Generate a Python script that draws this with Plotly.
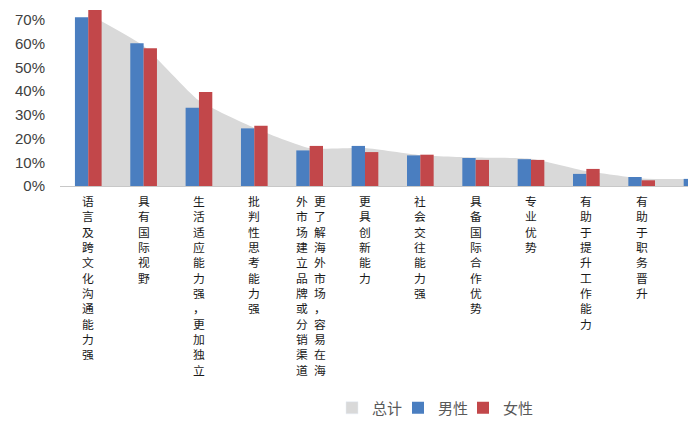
import plotly.graph_objects as go

categories = [
    "语言及跨文化沟通能力强",
    "具有国际视野",
    "生活适应能力强，更加独立",
    "批判性思考能力强",
    "更了解海外市场，容易在海外市场建立品牌或分销渠道",
    "更具创新能力",
    "社会交往能力强",
    "具备国际合作优势",
    "专业优势",
    "有助于提升工作能力",
    "有助于职务晋升",
    "其他",
]
# label columns as shown (vertical, stacked characters)
label_columns = [
    ["语言及跨文化沟通能力强"],
    ["具有国际视野"],
    ["生活适应能力强，更加独立"],
    ["批判性思考能力强"],
    ["外市场建立品牌或分销渠道", "更了解海外市场，容易在海"],
    ["更具创新能力"],
    ["社会交往能力强"],
    ["具备国际合作优势"],
    ["专业优势"],
    ["有助于提升工作能力"],
    ["有助于职务晋升"],
    [],
]
total = [0.725, 0.59, 0.36, 0.245, 0.16, 0.16, 0.13, 0.12, 0.115, 0.063, 0.032, 0.030]
male = [0.711, 0.602, 0.330, 0.243, 0.150, 0.169, 0.129, 0.118, 0.113, 0.051, 0.038, 0.030]
female = [0.742, 0.581, 0.396, 0.254, 0.169, 0.143, 0.132, 0.110, 0.110, 0.072, 0.024, 0.025]
y_ticks = [0, 0.1, 0.2, 0.3, 0.4, 0.5, 0.6, 0.7]

GRAY, BLUE, RED = "#d9d9d9", "#4a7ec0", "#c2474a"
X_RANGE = [-0.511, 10.837]
Y_RANGE = [0, 0.78]
W, H = 698, 421

fig = go.Figure()
# area (base subplot, drawn underneath)
fig.add_trace(go.Scatter(
    x=categories, y=total, name="总计", mode="none", fill="tozeroy",
    fillcolor=GRAY, line=dict(shape="spline", smoothing=0.5),
    showlegend=False, xaxis="x", yaxis="y",
))
# legend swatch for the area series
fig.add_trace(go.Bar(x=[categories[0]], y=[None], name="总计", legend="legend",
                     marker=dict(color=GRAY), xaxis="x", yaxis="y"))
# bars on overlaid axes, drawn on top of the area
fig.add_trace(go.Bar(x=categories, y=male, name="男性", legend="legend2",
                     marker=dict(color=BLUE, line=dict(width=0)), xaxis="x2", yaxis="y2"))
fig.add_trace(go.Bar(x=categories, y=female, name="女性", legend="legend3",
                     marker=dict(color=RED, line=dict(width=0)), xaxis="x2", yaxis="y2"))

annotations = []
offsets = {1: [0], 2: [-8, 10]}
for cat, cols in zip(categories, label_columns):
    if not cols:
        continue
    for dx, col in zip(offsets[len(cols)], cols):
        annotations.append(dict(
            x=cat, xref="x", y=0, yref="paper", yanchor="top", xanchor="center",
            yshift=-4, xshift=dx, showarrow=False, align="center",
            text="<br>".join(list(col)),
            font=dict(family="Noto Sans CJK SC", size=11.8, color="#1a1a1a"),
        ))

def legend_at(px):
    return dict(orientation="h", x=px / W, xanchor="left", xref="container",
                y=1 - 408 / H, yref="container", yanchor="middle",
                bgcolor="rgba(0,0,0,0)",
                font=dict(family="Noto Sans CJK SC", size=15, color="#595959"))

fig.update_layout(
    width=W, height=H,
    margin=dict(l=60, r=10, t=1, b=235, autoexpand=False),
    paper_bgcolor="white", plot_bgcolor="white",
    barmode="group", bargap=0.518, bargroupgap=0,
    showlegend=True,
    legend=legend_at(332), legend2=legend_at(398), legend3=legend_at(463),
    annotations=annotations,
    xaxis=dict(type="category", categoryarray=categories, range=X_RANGE, showticklabels=False,
               showline=True, linecolor="#c8c8c8", linewidth=1, showgrid=False,
               zeroline=False, ticks=""),
    yaxis=dict(range=Y_RANGE, tickvals=y_ticks, tickformat=".0%",
               showgrid=False, zeroline=False, showline=False, ticks="",
               ticklabelstandoff=14,
               tickfont=dict(family="Liberation Sans", size=15, color="#404040")),
    xaxis2=dict(type="category", categoryarray=categories, range=X_RANGE, overlaying="x",
                showticklabels=False, showline=False, showgrid=False, zeroline=False, ticks=""),
    yaxis2=dict(range=Y_RANGE, overlaying="y", showticklabels=False, showline=False,
                showgrid=False, zeroline=False, ticks=""),
)
fig.write_html("out.html", config={"displayModeBar": False},
               post_script="document.body.style.margin='0';")
